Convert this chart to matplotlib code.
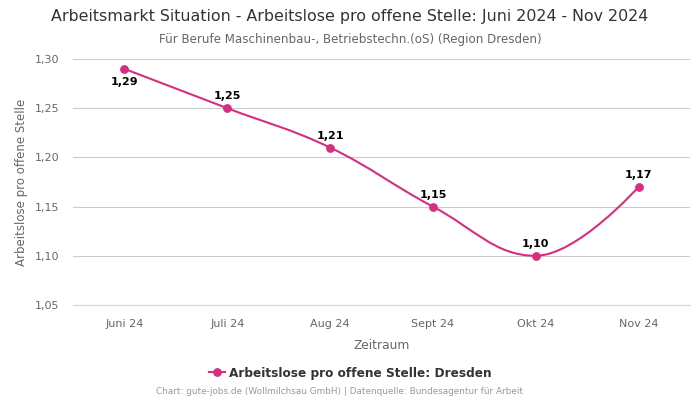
import matplotlib
matplotlib.use("Agg")
import matplotlib.pyplot as plt
from matplotlib.path import Path
from matplotlib.patches import PathPatch
from matplotlib.lines import Line2D
import numpy as np

categories = ["Juni 24", "Juli 24", "Aug 24", "Sept 24", "Okt 24", "Nov 24"]
values = [1.29, 1.25, 1.21, 1.15, 1.10, 1.17]
yticks = [1.05, 1.10, 1.15, 1.20, 1.25, 1.30]

LINE = "#d62f7f"
plt.rcParams['font.family'] = ['DejaVu Sans']

fig = plt.figure(figsize=(7, 4), dpi=100)
ax = fig.add_axes([73/700, 1-305/400, 617/700, 246/400])

xs = np.arange(len(values), dtype=float)
ys = np.array(values, dtype=float)


def spline_path(xs, ys):
    verts = [(xs[0], ys[0])]
    codes = [Path.MOVETO]
    n = len(xs)
    left = [None]*n
    right = [None]*n
    s, d = 1.5, 2.5
    for i in range(n):
        if i == 0 or i == n-1:
            left[i] = (xs[i], ys[i])
            right[i] = (xs[i], ys[i])
            continue
        px, py = xs[i], ys[i]
        lx, ly = xs[i-1], ys[i-1]
        nx, ny = xs[i+1], ys[i+1]
        lcx = (s*px + lx)/d
        lcy = (s*py + ly)/d
        rcx = (s*px + nx)/d
        rcy = (s*py + ny)/d
        corr = ((rcy - lcy)*(rcx - px))/(rcx - lcx) + py - rcy
        lcy += corr
        rcy += corr
        if lcy > ly and lcy > py:
            lcy = max(ly, py); rcy = 2*py - lcy
        elif lcy < ly and lcy < py:
            lcy = min(ly, py); rcy = 2*py - lcy
        if rcy > ny and rcy > py:
            rcy = max(ny, py); lcy = 2*py - rcy
        elif rcy < ny and rcy < py:
            rcy = min(ny, py); lcy = 2*py - rcy
        left[i] = (lcx, lcy)
        right[i] = (rcx, rcy)
    for i in range(1, n):
        verts += [right[i-1], left[i], (xs[i], ys[i])]
        codes += [Path.CURVE4]*3
    return Path(verts, codes)


ax.add_patch(PathPatch(spline_path(xs, ys), facecolor='none', edgecolor=LINE, lw=1.5, zorder=3))
ax.plot(xs, ys, 'o', color=LINE, ms=5.3, zorder=4)

for i, v in enumerate(values):
    lbl = f"{v:.2f}".replace('.', ',')
    if i == 0:
        ax.annotate(lbl, (xs[i], v), xytext=(0, -13), textcoords='offset points',
                    ha='center', va='bottom', fontsize=8, fontweight='bold', color='#000000', zorder=5)
    else:
        ax.annotate(lbl, (xs[i], v), xytext=(0, 5), textcoords='offset points',
                    ha='center', va='bottom', fontsize=8, fontweight='bold', color='#000000', zorder=5)

ax.set_xlim(-0.5, len(values)-0.5)
ax.set_ylim(1.05, 1.30)
ax.set_yticks(yticks)
ax.set_yticklabels([f"{t:.2f}".replace('.', ',') for t in yticks])
ax.set_xticks(xs)
ax.set_xticklabels(categories)
ax.tick_params(axis='both', length=0, labelsize=8, labelcolor='#666666')
ax.tick_params(axis='x', pad=10)
ax.tick_params(axis='y', pad=10)
ax.grid(axis='y', color='#cccccc', lw=0.8)
ax.set_axisbelow(True)
for sp in ['top', 'right', 'left']:
    ax.spines[sp].set_visible(False)
ax.spines['bottom'].set_color('#ccd6eb')
ax.spines['bottom'].set_linewidth(0.8)

ax.set_xlabel("Zeitraum", fontsize=8.8, color='#666666', labelpad=7)
ax.set_ylabel("Arbeitslose pro offene Stelle", fontsize=8.5, color='#666666', labelpad=5)

fig.text(0.5, 1-17/400, "Arbeitsmarkt Situation - Arbeitslose pro offene Stelle: Juni 2024 - Nov 2024",
         ha='center', va='center', fontsize=11.4, color='#333333')
fig.text(0.5, 1-39/400, "Für Berufe Maschinenbau-, Betriebstechn.(oS) (Region Dresden)",
         ha='center', va='center', fontsize=8.6, color='#666666')

handle = Line2D([0], [0], color=LINE, lw=1.5, marker='o', ms=5.3)
fig.legend([handle], ["Arbeitslose pro offene Stelle: Dresden"], loc='center',
           bbox_to_anchor=(350.5/700, 1-373/400), frameon=False, handlelength=1.3,
           handletextpad=0.4, prop={'weight': 'bold', 'size': 8.7}, labelcolor='#333333')

fig.text(340/700, 1-392/400, "Chart: gute-jobs.de (Wollmilchsau GmbH) | Datenquelle: Bundesagentur für Arbeit",
         ha='center', va='center', fontsize=6.4, color='#999999')

fig.savefig("out.png", dpi=100)
